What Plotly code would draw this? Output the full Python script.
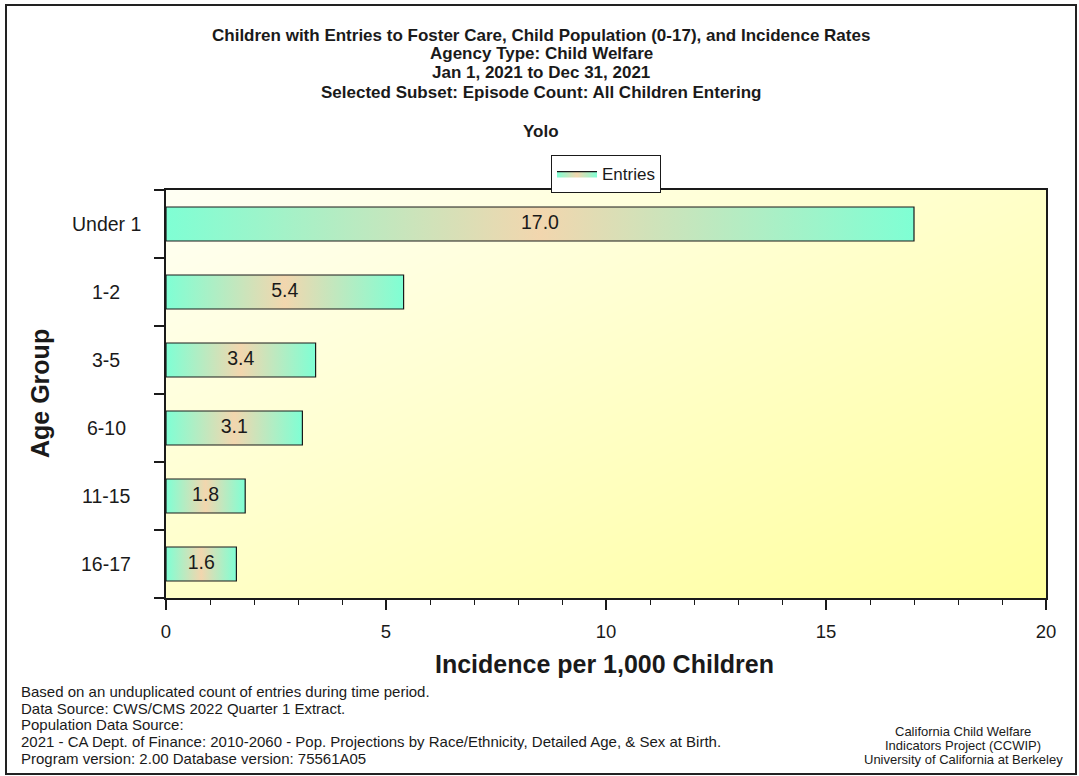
import plotly.graph_objects as go

# ---------------- data ----------------
age_groups = ["Under 1", "1-2", "3-5", "6-10", "11-15", "16-17"]
incidence = [17.0, 5.4, 3.4, 3.1, 1.8, 1.6]
series_name = "Entries"
x_ticks = [0, 5, 10, 15, 20]

title_lines = [
    "Children with Entries to Foster Care, Child Population (0-17), and Incidence Rates",
    "Agency Type: Child Welfare",
    "Jan 1, 2021 to Dec 31, 2021",
    "Selected Subset: Episode Count: All Children Entering",
]
subtitle = "Yolo"
x_title = "Incidence per 1,000 Children"
y_title = "Age Group"
foot_left = [
    "Based on an unduplicated count of entries during time period.",
    "Data Source: CWS/CMS 2022 Quarter 1 Extract.",
    "Population Data Source:",
    "2021 - CA Dept. of Finance: 2010-2060 - Pop. Projections by Race/Ethnicity, Detailed Age, & Sex at Birth.",
    "Program version: 2.00 Database version: 75561A05",
]
foot_right = [
    "California Child Welfare",
    "Indicators Project (CCWIP)",
    "University of California at Berkeley",
]

FONT = "Liberation Sans, Arial, sans-serif"
INK = "#1a1a1a"
W, H = 1079, 776
ML, MR, MT, MB = 166, 33, 190, 178
PW, PH = W - ML - MR, H - MT - MB


def px_x(px):
    return (px - ML) / PW


def px_y(py):
    return (H - MB - py) / PH


n = len(age_groups)
half = 0.25
bar_scale = [[0.0, "#7FFFD4"], [0.5, "#F2D6AE"], [1.0, "#7FFFD4"]]

fig = go.Figure()

# plot-area background gradient (white -> yellow, diagonal)
fig.add_trace(go.Heatmap(
    x=[0, 20], y=[-0.5, n - 0.5], z=[[0, 1], [1, 2]],
    colorscale=[[0, "#FFFFF4"], [1, "#FFFF9C"]],
    zsmooth="best", showscale=False, hoverinfo="skip",
))

# bars as gradient-filled polygons built from the data
for i, (g, v) in enumerate(zip(age_groups, incidence)):
    fig.add_trace(go.Scatter(
        x=[0, v, v, 0, 0],
        y=[i - half, i - half, i + half, i + half, i - half],
        mode="lines", fill="toself",
        fillgradient=dict(type="horizontal", colorscale=bar_scale),
        line=dict(color=INK, width=1.2),
        name=series_name, legendgroup="e",
        showlegend=(i == 0), hoverinfo="skip",
    ))

# value labels
fig.add_trace(go.Scatter(
    x=[v / 2 for v in incidence], y=list(range(n)),
    text=[f"{v:.1f}" for v in incidence], mode="text",
    textfont=dict(family=FONT, size=19.5, color=INK),
    showlegend=False, hoverinfo="skip",
))

fig.update_xaxes(
    range=[0, 20], tickvals=x_ticks, ticks="outside", ticklen=10, tickwidth=1.5,
    tickcolor=INK, showline=True, linecolor=INK, linewidth=1.5,
    mirror=True, showgrid=False, zeroline=False,
    tickfont=dict(family=FONT, size=18.5, color=INK), ticklabelstandoff=6,
    minor=dict(dtick=1, ticks="outside", ticklen=5, tickcolor=INK, tickwidth=1.2),
)
fig.update_yaxes(
    range=[n - 0.5, -0.5], tickvals=[k - 0.5 for k in range(n + 1)],
    showticklabels=False, ticks="outside", ticklen=10, tickwidth=1.5,
    tickcolor=INK, showline=True, linecolor=INK, linewidth=1.5,
    mirror=True, showgrid=False, zeroline=False,
)

annotations = []
# category labels, centred like the reference
for i, g in enumerate(age_groups):
    annotations.append(dict(
        x=px_x(106), xref="paper", y=i, yref="y", text=g, showarrow=False,
        xanchor="center", yanchor="middle",
        font=dict(family=FONT, size=19.5, color=INK),
    ))
# axis titles
annotations.append(dict(
    x=px_x(40), xref="paper", y=0.5, yref="paper", text=f"<b>{y_title}</b>",
    textangle=-90, showarrow=False, xanchor="center", yanchor="middle",
    font=dict(family=FONT, size=25, color=INK),
))
annotations.append(dict(
    x=px_x(604), xref="paper", y=px_y(664), yref="paper", text=f"<b>{x_title}</b>",
    showarrow=False, xanchor="center", yanchor="middle",
    font=dict(family=FONT, size=25, color=INK),
))
# title lines
for t, cy in zip(title_lines + [subtitle], [35, 53, 73, 93, 131]):
    annotations.append(dict(
        x=px_x(541), xref="paper", y=px_y(cy), yref="paper", text=f"<b>{t}</b>",
        showarrow=False, xanchor="center", yanchor="middle",
        font=dict(family=FONT, size=17, color=INK),
    ))
# footnotes
for t, cy in zip(foot_left, [691, 708, 724, 741, 758]):
    annotations.append(dict(
        x=px_x(19), xref="paper", y=px_y(cy), yref="paper", text=t,
        showarrow=False, xanchor="left", yanchor="middle",
        font=dict(family=FONT, size=15, color=INK),
    ))
for t, cy in zip(foot_right, [731, 745, 759]):
    annotations.append(dict(
        x=px_x(963), xref="paper", y=px_y(cy), yref="paper", text=t,
        showarrow=False, xanchor="center", yanchor="middle",
        font=dict(family=FONT, size=13, color=INK),
    ))

fig.update_layout(
    width=W, height=H, margin=dict(l=ML, r=MR, t=MT, b=MB),
    paper_bgcolor="white", plot_bgcolor="white",
    font=dict(family=FONT, color=INK),
    annotations=annotations,
    legend=dict(
        x=px_x(606), y=px_y(174), xanchor="center", yanchor="middle",
        bordercolor=INK, borderwidth=1, bgcolor="white",
        font=dict(family=FONT, size=17, color=INK),
        itemwidth=40, tracegroupgap=0,
    ),
    shapes=[dict(
        type="rect", xref="paper", yref="paper",
        x0=px_x(6), x1=px_x(1076), y0=px_y(774), y1=px_y(5),
        line=dict(color="#222222", width=2), fillcolor="rgba(0,0,0,0)", layer="below",
    )],
)

fig.write_html("out.html")
